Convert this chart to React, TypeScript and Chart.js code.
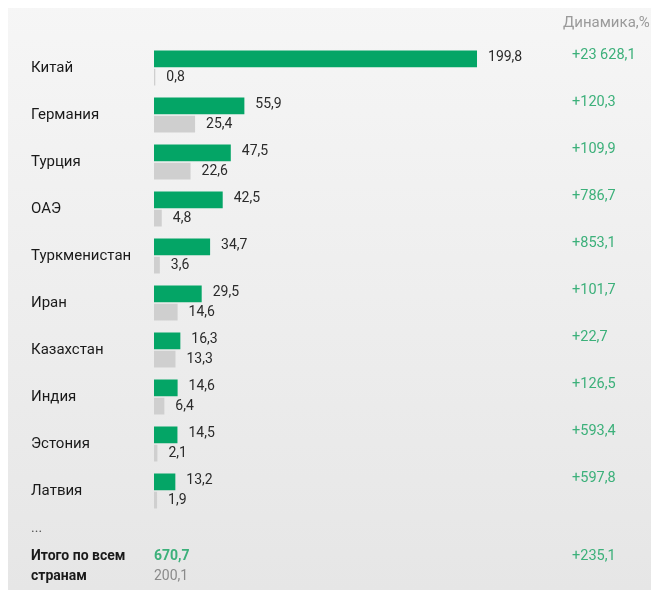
import React, { useEffect, useRef } from "react";
import { Chart, registerables } from "chart.js";

Chart.register(...registerables);

const countries = ["Китай", "Германия", "Турция", "ОАЭ", "Туркменистан", "Иран", "Казахстан", "Индия", "Эстония", "Латвия"];
const currentValues = [199.8, 55.9, 47.5, 42.5, 34.7, 29.5, 16.3, 14.6, 14.5, 13.2];
const previousValues = [0.8, 25.4, 22.6, 4.8, 3.6, 14.6, 13.3, 6.4, 2.1, 1.9];
const dynamics = ["+23 628,1", "+120,3", "+109,9", "+786,7", "+853,1", "+101,7", "+22,7", "+126,5", "+593,4", "+597,8"];
const headerLabel = "Динамика,%";
const totalLabel = ["Итого по всем", "странам"];
const totalCurrent = "670,7";
const totalPrevious = "200,1";
const totalDynamics = "+235,1";
const ellipsis = "...";

const FONT = "Roboto, 'Noto Sans', sans-serif";
const GREEN = "#04a566";
const GREY = "#cfcfcf";
const TEXT_GREEN = "#3cb07a";

const fmt = (v: number) => v.toFixed(1).replace(".", ",");

const overlayPlugin = {
  id: "overlay",
  afterDatasetsDraw(chart: any) {
    const { ctx, chartArea } = chart;
    const colX = chartArea.right + 30;
    ctx.save();
    ctx.textBaseline = "middle";
    ctx.font = `14px ${FONT}`;
    // value labels
    chart.data.datasets.forEach((ds: any, di: number) => {
      const meta = chart.getDatasetMeta(di);
      meta.data.forEach((bar: any, i: number) => {
        const v = ds.data[i];
        ctx.fillStyle = "#2b2b2b";
        ctx.textAlign = "left";
        ctx.fillText(fmt(v), bar.x + 11, bar.y + (di === 0 ? -1 : 0));
      });
    });
    // dynamics column
    const m0 = chart.getDatasetMeta(0);
    ctx.font = `15px ${FONT}`;
    ctx.fillStyle = "#9a9a9a";
    ctx.fillText(headerLabel, colX - 9, 23);
    ctx.font = `14.5px ${FONT}`;
    ctx.fillStyle = TEXT_GREEN;
    m0.data.forEach((bar: any, i: number) => {
      ctx.fillText(dynamics[i], colX, bar.y - 3);
    });
    // footer
    const labelX = 23;
    const barX = chartArea.left;
    ctx.font = `14px ${FONT}`;
    ctx.fillStyle = "#555";
    ctx.fillText(ellipsis, labelX, 528);
    ctx.font = `bold 14px ${FONT}`;
    ctx.fillStyle = "#1a1a1a";
    ctx.fillText(totalLabel[0], labelX, 556);
    ctx.fillText(totalLabel[1], labelX, 576);
    ctx.fillStyle = TEXT_GREEN;
    ctx.fillText(totalCurrent, barX, 556);
    ctx.font = `14px ${FONT}`;
    ctx.fillStyle = "#8a8a8a";
    ctx.fillText(totalPrevious, barX, 576);
    ctx.font = `14.5px ${FONT}`;
    ctx.fillStyle = TEXT_GREEN;
    ctx.fillText(totalDynamics, colX, 556);
    ctx.restore();
  },
};

export default function App() {
  const ref = useRef<HTMLCanvasElement>(null);
  useEffect(() => {
    if (!ref.current) return;
    const chart = new Chart(ref.current, {
      type: "bar",
      data: {
        labels: countries,
        datasets: [
          { data: currentValues, backgroundColor: GREEN, categoryPercentage: 0.78, barPercentage: 0.92 },
          { data: previousValues, backgroundColor: GREY, categoryPercentage: 0.78, barPercentage: 0.92 },
        ],
      },
      options: {
        indexAxis: "y",
        animation: false,
        responsive: false,
        maintainAspectRatio: false,
        layout: { padding: { left: 23, top: 44.5, bottom: 75.5, right: 117 } },
        plugins: { legend: { display: false }, tooltip: { enabled: false } },
        scales: {
          x: { display: false, min: 0, max: 240 },
          y: {
            grid: { display: false, drawTicks: false },
            border: { display: false },
            ticks: {
              crossAlign: "far",
              color: "#1a1a1a",
              font: { family: FONT, size: 15 },
              padding: 0,
            },
            afterFit(scale: any) {
              scale.width = 123;
            },
          },
        },
      },
      plugins: [overlayPlugin],
    } as any);
    return () => chart.destroy();
  }, []);
  return (
    <div
      style={{
        marginTop: -8,
        width: 651,
        height: 590,
        background: "linear-gradient(#f6f6f6, #e6e6e6)",
      }}
    >
      <canvas ref={ref} width={651} height={590} style={{ display: "block" }} />
    </div>
  );
}
